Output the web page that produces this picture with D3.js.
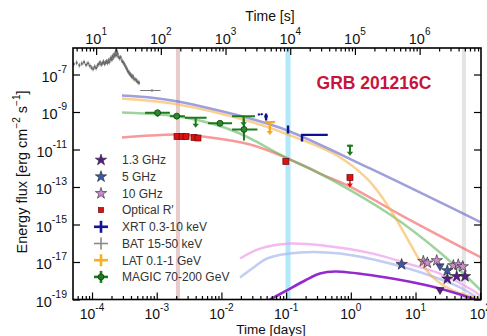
<!DOCTYPE html>
<html>
<head>
<meta charset="utf-8">
<script src="https://cdn.jsdelivr.net/npm/d3@7"></script>
<style>
  body { margin: 0; background: #fff; }
  text { font-family: "Liberation Sans", Arial, sans-serif; }
</style>
</head>
<body>
<svg id="chart" width="487" height="336"></svg>
<script>
// ---- data (time in days unless noted, flux in erg cm^-2 s^-1) ----
const batSec = [4.5,5,5.5,6,6.5,7,7.5,8,8.5,9,9.5,10,10.5,11,11.5,12,12.5,13,13.5,14,14.5,15,15.5,16,16.5,17,17.5,18,18.5,19,19.5,20,20.5,21,21.5,22,23,24,25,26,27,28,29,30,31,32,33,34,35,36,37,38,40,42,44,46];
const batFlux7 = [3.6,4.2,3.1,3.8,4.5,3.3,3.9,2.9,2.3,2.0,2.6,2.2,3.0,3.6,4.4,3.4,4.0,4.8,3.7,4.3,5.0,4.1,5.6,4.6,6.4,7.8,6.2,9.5,8.0,12,10,15,11,17,13,9,7.5,8.2,5.5,4.6,3.8,3.0,2.4,1.9,1.5,1.3,1.1,1.0,0.85,0.75,0.8,0.62,0.55,0.48,0.40,0.36]; // x 1e-7
const batLate = {t: 73, lo: 48, hi: 99, f: 1.4e-8}; // seconds

const magicPts = [
  [1.03e-3, 6.6e-4, 1.6e-3, 9.1e-10, 5.5e-10, 1.25e-9],
  [2.04e-3, 1.6e-3, 2.73e-3, 6.0e-10, 4.8e-10, 7.5e-10],
  [9.5e-3, 6.2e-3, 1.46e-2, 2.5e-10, 2.1e-10, 3.0e-10],
  [2.23e-2, 1.46e-2, 3.6e-2, 1.17e-10, 3.0e-11, 4.5e-10]
];
const magicUL = [
  [4.0e-3, 2.73e-3, 5.9e-3, 4.9e-10],
  [2.2e-2, 1.46e-2, 3.3e-2, 6.0e-10],
  [0.97, 0.92, 1.02, 1.6e-11]
];
const latUL = [[5.6e-2, 4.7e-2, 6.7e-2, 2.9e-10]];
const xrtPts = [
  [3.8e-2, 3.75e-2, 3.85e-2, 7.4e-10, 6.8e-10, 8.0e-10],
  [4.2e-2, 4.15e-2, 4.25e-2, 7.6e-10, 7.0e-10, 8.2e-10],
  [4.9e-2, 4.6e-2, 5.2e-2, 5.8e-10, 3.5e-10, 8.3e-10],
  [0.107, 0.104, 0.110, 1.17e-10, 7.1e-11, 1.9e-10],
  [0.176, 0.17, 0.44, 6.0e-11, 2.7e-11, 6.3e-11]
];
const optPts = [[2.06e-3,4.9e-11],[2.46e-3,4.9e-11],[2.84e-3,4.9e-11],[3.77e-3,4.4e-11],[4.34e-3,4.1e-11],[9.9e-2,2.3e-12],[0.97,3.2e-13]];
const optUL = [[0.97, 3.2e-13]];
const radio10 = [[13.2,1.1e-17],[15.2,9.0e-18],[21.3,1.2e-17],[38.4,6.5e-18],[45.8,7.2e-18],[53.7,5.7e-18]];
const radio5 = [[6.1,7.4e-18],[31.0,3.5e-18]];
const radio5UL = [[23.9,6.0e-18]];
const radio13 = [[31.0,1.27e-18],[43.3,1.7e-18],[58.2,1.7e-18]];
const radio13UL = [[23.9,3.3e-19]];

// model curves
const modelXrt = [[2.9e-4,7.6e-9],[7.9e-4,5.9e-9],[2.13e-3,3.6e-9],[6.7e-3,1.55e-9],[2.77e-2,4.5e-10],[0.107,1.0e-10],[1.98,9.8e-13],[103,1.3e-15]];
const modelLat = [[2.91e-4,5.2e-9],[2.13e-3,2.5e-9],[2.77e-2,3.1e-10],[0.107,6.3e-11],[0.61,4.8e-12],[1.78,2.8e-13],[3.15,2.4e-14],[5.18,1.6e-15],[8.2,9.8e-17],[11.7,1.2e-17],[18.6,1.5e-18],[38.0,3.0e-19],[103,1.1e-19]];
const modelMagic = [[2.91e-4,9.4e-10],[1.12e-3,7.4e-10],[3.27e-3,4.5e-10],[7.97e-3,2.15e-10],[1.62e-2,9.1e-11],[2.77e-2,3.9e-11],[9.95e-2,3.7e-12],[0.334,5.2e-13],[4.04,3.4e-15],[23.9,3.2e-17],[103,3.0e-19]];
const modelOpt = [[2.91e-4,4.4e-11],[7.9e-4,5.6e-11],[2.13e-3,6.3e-11],[6.7e-3,4.4e-11],[2.77e-2,1.85e-11],[9.95e-2,3.7e-12],[0.334,5.2e-13],[0.97,1.06e-13],[5.75,3.4e-15],[103,1.74e-17]];
const model10 = [[1.94e-2,1.54e-17],[3.95e-2,5.2e-17],[0.115,9.7e-17],[0.371,7.6e-17],[2.2,2.8e-17],[7.4,8.3e-18],[23.9,2.4e-18],[77.4,3.0e-19],[103,1.45e-19]];
const model5 = [[1.94e-2,1.5e-18],[3.3e-2,5.75e-18],[5.07e-2,1.54e-17],[0.164,3.2e-17],[0.68,2.8e-17],[4.04,8.3e-18],[16.7,1.9e-18],[48.8,4.4e-19],[103,8.9e-20]];
const model13 = [[5.25e-2,8.8e-20],[9.6e-2,2.7e-19],[0.196,1.03e-18],[0.334,2.4e-18],[0.57,3.1e-18],[2.2,1.9e-18],[13.1,6.3e-19],[43.7,2.1e-19],[92.5,8.8e-20]];

const bandDays = [2.13e-3, 0.107, 56];
const dayTicks = [1e-4,1e-3,1e-2,1e-1,1,10,100];
const secTicks = [10,100,1e3,1e4,1e5,1e6];
const fluxTicks = [1e-7,1e-9,1e-11,1e-13,1e-15,1e-17,1e-19];

const legendItems = [
  ['1.3 GHz','star','#5a1a8e'],
  ['5 GHz','star','#3c5aa6'],
  ['10 GHz','star','#c98ccc'],
  ['Optical R\u2032','square','#dd1111'],
  ['XRT 0.3-10 keV','cross','#12129a'],
  ['BAT 15-50 keV','cross','#8a8a8a'],
  ['LAT 0.1-1 GeV','cross','#f6b020'],
  ['MAGIC 70-200 GeV','crossdot','#1c7a1c']
];

// ---- scales ----
const svg = d3.select('#chart');
const L = 73, R = 481, T = 48, B = 299.5;
const x = d3.scaleLog().domain([10 ** -4.294, 10 ** 2.012]).range([L, R]);
const xSec = d3.scaleLog().domain(x.domain().map(d => d * 86400)).range([L, R]);
const y = d3.scaleLog().domain([1e-19, 10 ** -5.587]).range([B, T]);

svg.append('defs').append('clipPath').attr('id', 'plot')
  .append('rect').attr('x', L).attr('y', T).attr('width', R - L).attr('height', B - T);

const plot = svg.append('g').attr('clip-path', 'url(#plot)');

// vertical bands
const bandColors = ['rgba(205,140,140,0.45)', '#b2e9f8', '#e4e4e4'];
const bandWidths = [4, 5, 4];
plot.selectAll('.band').data(bandDays).join('rect')
  .attr('x', (d, i) => x(d) - bandWidths[i] / 2)
  .attr('y', T).attr('width', (d, i) => bandWidths[i]).attr('height', B - T)
  .attr('fill', (d, i) => bandColors[i]);

// model curves
const line = d3.line().x(d => x(d[0])).y(d => y(d[1])).curve(d3.curveCatmullRom.alpha(0.5));
const models = [
  [model5, '#aab6ee', 0.7, 2.5],
  [model10, '#ee9cec', 0.7, 2.5],
  [modelOpt, '#f26464', 0.65, 2.5],
  [modelMagic, '#5cb65c', 0.6, 2.5],
  [modelLat, '#f8b24a', 0.6, 2.5],
  [modelXrt, '#7676cc', 0.7, 2.5],
  [model13, '#8d1fcc', 0.95, 2.6]
];
models.forEach(([d, c, o, w]) => {
  plot.append('path').attr('d', line(d)).attr('fill', 'none')
    .attr('stroke', c).attr('stroke-opacity', o).attr('stroke-width', w);
});

// helpers
function errBars(g, pts, color, width) {
  pts.forEach(p => {
    g.append('line').attr('x1', x(p[1])).attr('x2', x(p[2])).attr('y1', y(p[3])).attr('y2', y(p[3]))
      .attr('stroke', color).attr('stroke-width', width);
    g.append('line').attr('x1', x(p[0])).attr('x2', x(p[0])).attr('y1', y(p[4])).attr('y2', y(p[5]))
      .attr('stroke', color).attr('stroke-width', width);
  });
}
function upperLimits(g, pts, color, width, len) {
  pts.forEach(p => {
    const cx = x(p[0]), cy = y(p[3]);
    g.append('line').attr('x1', x(p[1])).attr('x2', x(p[2])).attr('y1', cy).attr('y2', cy)
      .attr('stroke', color).attr('stroke-width', width);
    g.append('line').attr('x1', cx).attr('x2', cx).attr('y1', cy).attr('y2', cy + len - 3)
      .attr('stroke', color).attr('stroke-width', width);
    g.append('path').attr('d', `M${cx - 3.2},${cy + len - 4}L${cx + 3.2},${cy + len - 4}L${cx},${cy + len}Z`)
      .attr('fill', color);
  });
}

// BAT
const bat = plot.append('g');
batSec.forEach((t, i) => {
  const f = batFlux7[i] * 1e-7;
  bat.append('line').attr('x1', xSec(t)).attr('x2', xSec(t))
    .attr('y1', y(f * 1.35)).attr('y2', y(f / 1.35)).attr('stroke', '#777').attr('stroke-width', 0.8);
  bat.append('rect').attr('x', xSec(t) - 1).attr('y', y(f) - 1).attr('width', 2).attr('height', 2).attr('fill', '#666');
});
bat.append('line').attr('x1', xSec(batLate.lo)).attr('x2', xSec(batLate.hi))
  .attr('y1', y(batLate.f)).attr('y2', y(batLate.f)).attr('stroke', '#777').attr('stroke-width', 1);
bat.append('line').attr('x1', xSec(batLate.t)).attr('x2', xSec(batLate.t))
  .attr('y1', y(batLate.f) - 1.5).attr('y2', y(batLate.f) + 1.5).attr('stroke', '#777').attr('stroke-width', 1);

// MAGIC
const magic = plot.append('g');
errBars(magic, magicPts, '#1c7a1c', 2);
upperLimits(magic, magicUL, '#1c7a1c', 2, 10);
magic.append('line').attr('x1', x(magicUL[2][0]) - 3).attr('x2', x(magicUL[2][0]) + 3)
  .attr('y1', y(magicUL[2][3])).attr('y2', y(magicUL[2][3])).attr('stroke', '#1c7a1c').attr('stroke-width', 2);
magic.selectAll('circle').data(magicPts).join('circle')
  .attr('cx', d => x(d[0])).attr('cy', d => y(d[3])).attr('r', 3)
  .attr('fill', '#2a8a2a').attr('stroke', '#0d3d0d').attr('stroke-width', 0.8);

// LAT
upperLimits(plot.append('g'), latUL, '#f6a81e', 2.2, 13);

// XRT
errBars(plot.append('g'), xrtPts, '#10108e', 2.4);

// Optical
const opt = plot.append('g');
optUL.forEach(p => {
  const cx = x(p[0]), cy = y(p[1]);
  opt.append('line').attr('x1', cx).attr('x2', cx).attr('y1', cy).attr('y2', cy + 7).attr('stroke', '#e01010').attr('stroke-width', 1.5);
  opt.append('path').attr('d', `M${cx - 3},${cy + 6}L${cx + 3},${cy + 6}L${cx},${cy + 10}Z`).attr('fill', '#e01010');
});
opt.selectAll('rect').data(optPts).join('rect')
  .attr('x', d => x(d[0]) - 3).attr('y', d => y(d[1]) - 3).attr('width', 6).attr('height', 6)
  .attr('fill', '#dd1111').attr('stroke', '#6a0a0a').attr('stroke-width', 0.7);

// Radio
const star = d3.symbol().type(d3.symbolStar).size(40);
const tri = d3.symbol().type(d3.symbolTriangle).size(28);
function stars(data, color) {
  plot.append('g').selectAll('path').data(data).join('path')
    .attr('d', star).attr('transform', d => `translate(${x(d[0])},${y(d[1])})`)
    .attr('fill', color).attr('stroke', '#222').attr('stroke-width', 0.6);
}
function tris(data, color) {
  plot.append('g').selectAll('path').data(data).join('path')
    .attr('d', tri).attr('transform', d => `translate(${x(d[0])},${y(d[1])}) rotate(180)`)
    .attr('fill', color).attr('stroke', '#222').attr('stroke-width', 0.6);
}
tris(radio5UL, '#3c5aa6');
tris(radio13UL, '#5a1a8e');
stars(radio10, '#c98ccc');
stars(radio5, '#3c5aa6');
stars(radio13, '#5a1a8e');

// ---- axes ----
function minorTicks(lo, hi) {
  const out = [];
  for (let e = Math.floor(Math.log10(lo)); e <= Math.ceil(Math.log10(hi)); e++) {
    for (let k = 2; k <= 9; k++) {
      const v = k * 10 ** e;
      if (v > lo && v < hi) out.push(v);
    }
  }
  return out;
}
const axisStyle = g => { g.select('.domain').remove(); g.selectAll('line').attr('stroke', '#000').attr('stroke-width', 1.2); };

svg.append('g').attr('transform', `translate(0,${B})`)
  .call(d3.axisBottom(x).tickValues(dayTicks).tickSize(-7).tickFormat('')).call(axisStyle);
svg.append('g').attr('transform', `translate(0,${B})`)
  .call(d3.axisBottom(x).tickValues(minorTicks(...x.domain())).tickSize(-3.5).tickFormat('')).call(axisStyle);
svg.append('g').attr('transform', `translate(0,${T})`)
  .call(d3.axisTop(xSec).tickValues(secTicks).tickSize(-7).tickFormat('')).call(axisStyle);
svg.append('g').attr('transform', `translate(0,${T})`)
  .call(d3.axisTop(xSec).tickValues(minorTicks(...xSec.domain())).tickSize(-3.5).tickFormat('')).call(axisStyle);
svg.append('g').attr('transform', `translate(${L},0)`)
  .call(d3.axisLeft(y).tickValues(fluxTicks).tickSize(-7).tickFormat('')).call(axisStyle);
svg.append('g').attr('transform', `translate(${R},0)`)
  .call(d3.axisRight(y).tickValues(fluxTicks).tickSize(-7).tickFormat('')).call(axisStyle);

svg.append('rect').attr('x', L).attr('y', T).attr('width', R - L).attr('height', B - T)
  .attr('fill', 'none').attr('stroke', '#000').attr('stroke-width', 1.6);

function powLabel(px, py, exp, anchor, big, small, rise) {
  const t = svg.append('text').attr('x', px).attr('y', py).attr('text-anchor', anchor).attr('fill', '#111');
  t.append('tspan').text('10').attr('font-size', big);
  t.append('tspan').text(exp).attr('font-size', small).attr('dy', -rise);
}
dayTicks.forEach(v => powLabel(x(v), 319, String(Math.round(Math.log10(v))), 'middle', 14, 10, 8.5));
secTicks.forEach(v => powLabel(xSec(v), 44, String(Math.round(Math.log10(v))), 'middle', 14.5, 10, 9));
fluxTicks.forEach(v => powLabel(67, y(v) + 7.5, String(Math.round(Math.log10(v))), 'end', 14.5, 10.5, 9));

// titles
svg.append('text').attr('x', 270).attr('y', 21).attr('text-anchor', 'middle')
  .attr('font-size', 14).attr('fill', '#111').text('Time [s]');
svg.append('text').attr('x', 271).attr('y', 334).attr('text-anchor', 'middle')
  .attr('font-size', 13.5).attr('fill', '#111').text('Time [days]');
const yl = svg.append('text').attr('transform', 'translate(27,172) rotate(-90)')
  .attr('text-anchor', 'middle').attr('font-size', 14.5).attr('fill', '#111');
yl.append('tspan').text('Energy flux [erg cm');
yl.append('tspan').text('\u22122').attr('font-size', 10).attr('dy', -7);
yl.append('tspan').text(' s').attr('dy', 7);
yl.append('tspan').text('\u22121').attr('font-size', 10).attr('dy', -7);
yl.append('tspan').text(']').attr('dy', 7);

svg.append('text').attr('x', 374).attr('y', 89).attr('text-anchor', 'middle')
  .attr('font-size', 17.5).attr('font-weight', 'bold').attr('fill', '#c8143c').text('GRB 201216C');

// legend
const lg = svg.append('g');
legendItems.forEach(([label, kind, color], i) => {
  const cy = 160 + i * 16.7, cx = 101;
  const g = lg.append('g').attr('transform', `translate(${cx},${cy})`);
  if (kind === 'star') {
    g.append('path').attr('d', d3.symbol().type(d3.symbolStar).size(40)).attr('fill', color)
      .attr('stroke', '#222').attr('stroke-width', 0.6);
  } else if (kind === 'square') {
    g.append('rect').attr('x', -2.5).attr('y', -2.5).attr('width', 5).attr('height', 5)
      .attr('fill', color).attr('stroke', '#6a0a0a').attr('stroke-width', 0.7);
  } else {
    const w = label.startsWith('BAT') ? 1.6 : 2.6;
    g.append('line').attr('x1', -7).attr('x2', 7).attr('stroke', color).attr('stroke-width', w);
    g.append('line').attr('y1', -6).attr('y2', 6).attr('stroke', color).attr('stroke-width', w);
    if (kind === 'crossdot') g.append('circle').attr('r', 3).attr('fill', color).attr('stroke', '#0d3d0d').attr('stroke-width', 0.7);
  }
  lg.append('text').attr('x', 122).attr('y', cy + 4.3).attr('font-size', 12).attr('fill', '#333').text(label);
});
</script>
</body>
</html>
